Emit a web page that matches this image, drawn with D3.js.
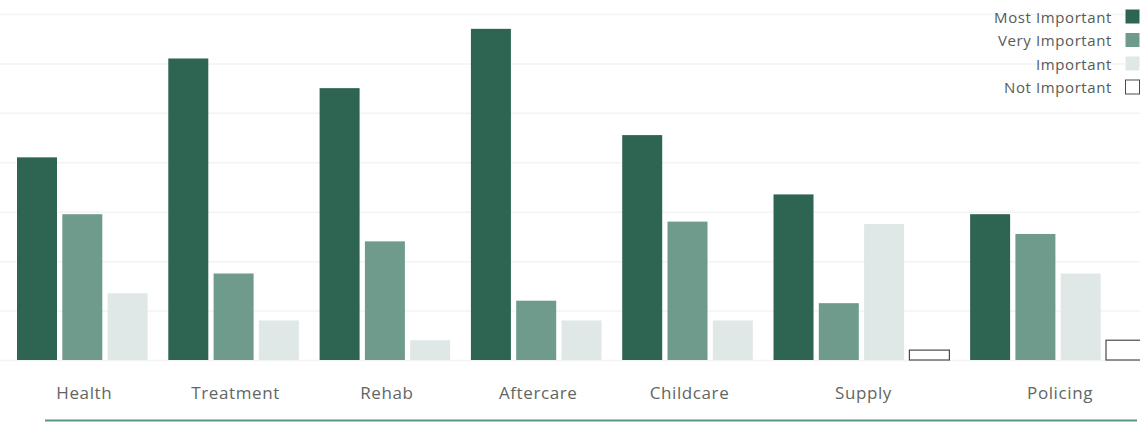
<!DOCTYPE html>
<html>
<head>
<meta charset="utf-8">
<script src="https://cdn.jsdelivr.net/npm/d3@7"></script>
<style>
  body { margin: 0; background: #fff; }
  svg { display: block; }
  text { font-family: "Open Sans", sans-serif; }
</style>
</head>
<body>
<div class="graph"></div>
<script>
let categories = ["Health", "Treatment", "Rehab", "Aftercare", "Childcare", "Supply", "Policing"];
let seriesNames = ["Most Important", "Very Important", "Important", "Not Important"];
let mostImportant = [41, 61, 55, 67, 45.5, 33.5, 29.5];
let veryImportant = [29.5, 17.5, 24, 12, 28, 11.5, 25.5];
let important = [13.5, 8, 4, 8, 8, 27.5, 17.5];
let notImportant = [null, null, null, null, null, 2, 4];
let yTicks = [0, 10, 20, 30, 40, 50, 60, 70];

let w = 1140;
let h = 423;
let colors = ["#2e6452", "#6f9b8d", "#dfe8e7", "#ffffff"];

let svgvar = d3
  .select(".graph")
  .append("svg")
  .attr("width", w)
  .attr("height", h);

let yScale = d3.scaleLinear().domain([0, 70]).range([360, 14]);

// faint gridlines
let yAxis = d3.axisLeft().scale(yScale).tickValues(yTicks).tickSize(-w).tickFormat("");
let gAxis = svgvar.append("g").call(yAxis);
gAxis.select(".domain").remove();
gAxis.selectAll("line").attr("stroke", "#f2f4f3").attr("stroke-width", 1.5);

// build bar list, groups laid out one after another
let allSeries = [mostImportant, veryImportant, important, notImportant];
let bars = [];
let groups = [];
let slot = 0;
categories.forEach(function (cat, i) {
  let start = slot;
  allSeries.forEach(function (s, j) {
    if (s[i] != null) {
      bars.push({ cat: cat, series: j, value: s[i], pos: slot });
      slot += 1;
    }
  });
  groups.push({ cat: cat, mid: (start + slot) / 2 });
  slot += 0.34;
});

let step = 45.3;
let barW = 40;
let xScale = d3.scaleLinear().domain([0, 1]).range([17, 17 + step]);

svgvar
  .append("g")
  .selectAll("rect")
  .data(bars)
  .enter()
  .append("rect")
  .attr("x", (d) => xScale(d.pos))
  .attr("y", (d) => yScale(d.value))
  .attr("width", barW)
  .attr("height", (d) => yScale(0) - yScale(d.value))
  .attr("fill", (d) => colors[d.series])
  .attr("stroke", (d) => (d.series == 3 ? "#4a4a4a" : "none"))
  .attr("stroke-width", 1.2);

svgvar
  .append("g")
  .selectAll("text")
  .data(groups)
  .enter()
  .append("text")
  .attr("x", (d) => xScale(d.mid) - (step - barW) / 2 + 2)
  .attr("y", 398.5)
  .attr("text-anchor", "middle")
  .attr("fill", "#5f6664")
  .style("font-size", "17px")
  .style("letter-spacing", "0.6px")
  .text((d) => d.cat);

// bottom rule
svgvar
  .append("line")
  .attr("x1", 45)
  .attr("x2", 1137)
  .attr("y1", 420.5)
  .attr("y2", 420.5)
  .attr("stroke", "#5e9588")
  .attr("stroke-width", 2);

// legend
let legend = svgvar.append("g");
seriesNames.forEach(function (name, i) {
  legend
    .append("text")
    .attr("x", 1112)
    .attr("y", 22.5 + i * 23.5)
    .attr("text-anchor", "end")
    .attr("fill", "#555b59")
    .style("font-size", "15px")
    .style("letter-spacing", "0.6px")
    .text(name);
  legend
    .append("rect")
    .attr("x", 1125.5)
    .attr("y", 9.5 + i * 23.5)
    .attr("width", 14)
    .attr("height", 14)
    .attr("fill", colors[i])
    .attr("stroke", i == 3 ? "#4a4a4a" : "none");
});
</script>
</body>
</html>
